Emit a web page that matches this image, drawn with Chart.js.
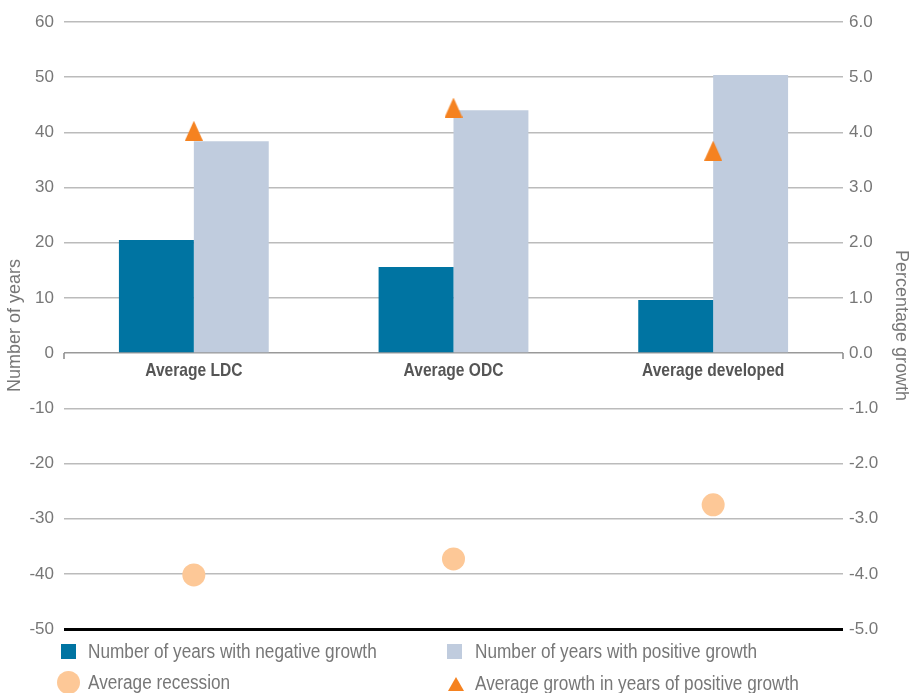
<!DOCTYPE html>
<html>
<head>
<meta charset="utf-8">
<script src="https://cdn.jsdelivr.net/npm/chart.js@4"></script>
<style>
  body { margin: 0; background: #fff; }
  #wrap { position: relative; width: 912px; height: 693px; }
  #legend { position: absolute; left: 0; top: 0; width: 912px; height: 693px; pointer-events: none;
            font-family: "Liberation Sans", sans-serif; font-size: 20px; color: #777; }
</style>
</head>
<body>
<div id="wrap">
  <canvas id="chart" width="912" height="693"></canvas>
  <div id="legend"></div>
</div>
<script>
// ----------------------
// Données
// ----------------------
const categories = ["Average LDC", "Average ODC", "Average developed"];
const negativeYears = [20.5, 15.6, 9.6];
const positiveYears = [38.4, 44.0, 50.4];
const avgGrowth = [4.03, 4.45, 3.67];
const avgRecession = [-4.02, -3.73, -2.75];

const leftTicks = [60, 50, 40, 30, 20, 10, 0, -10, -20, -30, -40, -50];
const legendLabels = [
  "Number of years with negative growth",
  "Number of years with positive growth",
  "Average recession",
  "Average growth in years of positive growth"
];

const DARK = "#0074A2";
const LIGHT = "#C0CCDE";
const ORANGE = "#F58220";
const PEACH = "#FDC897";
const FONT = "'Liberation Sans', sans-serif";

// triangle marker (un peu plus haut que large)
function makeTriangle(w, h, color) {
  const c = document.createElement("canvas");
  c.width = w; c.height = h;
  const g = c.getContext("2d");
  g.fillStyle = color;
  g.beginPath();
  g.moveTo(w / 2, 0);
  g.lineTo(w, h);
  g.lineTo(0, h);
  g.closePath();
  g.fill();
  return c;
}
const triangle = makeTriangle(18, 20, ORANGE);

// petits traits aux extrémités de la ligne zéro + libellés de catégories (police condensée)
const zeroAxis = {
  id: "zeroAxis",
  afterDatasetsDraw(chart) {
    const { ctx, chartArea, scales } = chart;
    const y0 = scales.y.getPixelForValue(0);
    ctx.save();
    ctx.strokeStyle = "#888";
    ctx.lineWidth = 1.5;
    [chartArea.left, chartArea.right].forEach(x => {
      ctx.beginPath();
      ctx.moveTo(x, y0);
      ctx.lineTo(x, y0 + 6);
      ctx.stroke();
    });

    ctx.fillStyle = "#555";
    ctx.font = "bold 19px " + FONT;
    ctx.textAlign = "center";
    ctx.textBaseline = "alphabetic";
    categories.forEach((label, i) => {
      const x = scales.x.getPixelForTick(i);
      ctx.save();
      ctx.translate(x, y0 + 23);
      ctx.scale(0.82, 1);
      ctx.fillText(label, 0, 0);
      ctx.restore();
    });
    ctx.restore();
  }
};

const ctx = document.getElementById("chart").getContext("2d");
const chart = new Chart(ctx, {
  data: {
    labels: categories,
    datasets: [
      {
        type: "scatter",
        label: legendLabels[3],
        data: avgGrowth,
        yAxisID: "y2",
        pointStyle: triangle,
        order: 0
      },
      {
        type: "scatter",
        label: legendLabels[2],
        data: avgRecession,
        yAxisID: "y2",
        pointStyle: "circle",
        pointRadius: 11.5,
        backgroundColor: PEACH,
        borderWidth: 0,
        order: 0
      },
      {
        type: "bar",
        label: legendLabels[0],
        data: negativeYears,
        backgroundColor: DARK,
        yAxisID: "y",
        barPercentage: 1,
        categoryPercentage: 0.577,
        order: 1
      },
      {
        type: "bar",
        label: legendLabels[1],
        data: positiveYears,
        backgroundColor: LIGHT,
        yAxisID: "y",
        barPercentage: 1,
        categoryPercentage: 0.577,
        order: 1
      }
    ]
  },
  options: {
    responsive: false,
    animation: false,
    layout: { padding: { top: 22, bottom: 64, left: 0, right: 0 } },
    plugins: {
      legend: { display: false },
      tooltip: { enabled: false }
    },
    scales: {
      x: {
        type: "category",
        position: { y: 0 },
        offset: true,
        grid: { display: false },
        border: { display: false },
        ticks: { display: false }
      },
      y: {
        position: "left",
        min: -50,
        max: 60,
        afterFit(scale) { scale.width = 64; },
        afterBuildTicks(scale) { scale.ticks = leftTicks.map(v => ({ value: v })); },
        grid: {
          drawTicks: false,
          color: c => c.tick.value === -50 ? "#000" : (c.tick.value === 0 ? "#999" : "#BBBBBB"),
          lineWidth: c => c.tick.value === -50 ? 3 : 1.5
        },
        border: { display: false },
        ticks: {
          color: "#777",
          padding: 10,
          font: { family: FONT, size: 17 }
        },
        title: {
          display: true,
          text: "Number of years",
          color: "#777",
          padding: { top: 4, bottom: 0 },
          font: { family: FONT, size: 18 }
        }
      },
      y2: {
        position: "right",
        min: -5,
        max: 6,
        afterFit(scale) { scale.width = 69; },
        grid: { drawOnChartArea: false, drawTicks: false },
        border: { display: false },
        ticks: {
          stepSize: 1,
          color: "#777",
          padding: 6,
          font: { family: FONT, size: 17 },
          callback: v => v.toFixed(1)
        },
        title: {
          display: true,
          text: "Percentage growth",
          color: "#777",
          padding: { top: 0, bottom: 0 },
          font: { family: FONT, size: 18 }
        }
      }
    }
  },
  plugins: [zeroAxis]
});

// ----------------------
// Légende HTML (2 x 2)
// ----------------------
const legendDiv = document.getElementById("legend");
const marks = [
  { x: 61, y: 651, html: `<div style="position:absolute;left:0;top:-7px;width:15px;height:15px;background:${DARK}"></div>` },
  { x: 447, y: 651, html: `<div style="position:absolute;left:0;top:-7px;width:15px;height:15px;background:${LIGHT}"></div>` },
  { x: 57, y: 682, html: `<div style="position:absolute;left:0;top:-11.5px;width:23px;height:23px;border-radius:50%;background:${PEACH}"></div>` },
  { x: 448, y: 683, html: `<div style="position:absolute;left:0;top:-6px;width:0;height:0;border-left:8px solid transparent;border-right:8px solid transparent;border-bottom:14px solid ${ORANGE}"></div>` }
];
const textX = [88, 475, 88, 475];
legendLabels.forEach((label, i) => {
  const m = document.createElement("div");
  m.style.position = "absolute";
  m.style.left = marks[i].x + "px";
  m.style.top = marks[i].y + "px";
  m.innerHTML = marks[i].html;
  legendDiv.appendChild(m);

  const t = document.createElement("div");
  t.style.position = "absolute";
  t.style.left = textX[i] + "px";
  t.style.top = (marks[i].y - 12) + "px";
  t.style.lineHeight = "24px";
  t.style.whiteSpace = "nowrap";
  t.style.transformOrigin = "0 50%";
  t.style.transform = "scaleX(0.86)";
  t.textContent = label;
  legendDiv.appendChild(t);
});
</script>
</body>
</html>
